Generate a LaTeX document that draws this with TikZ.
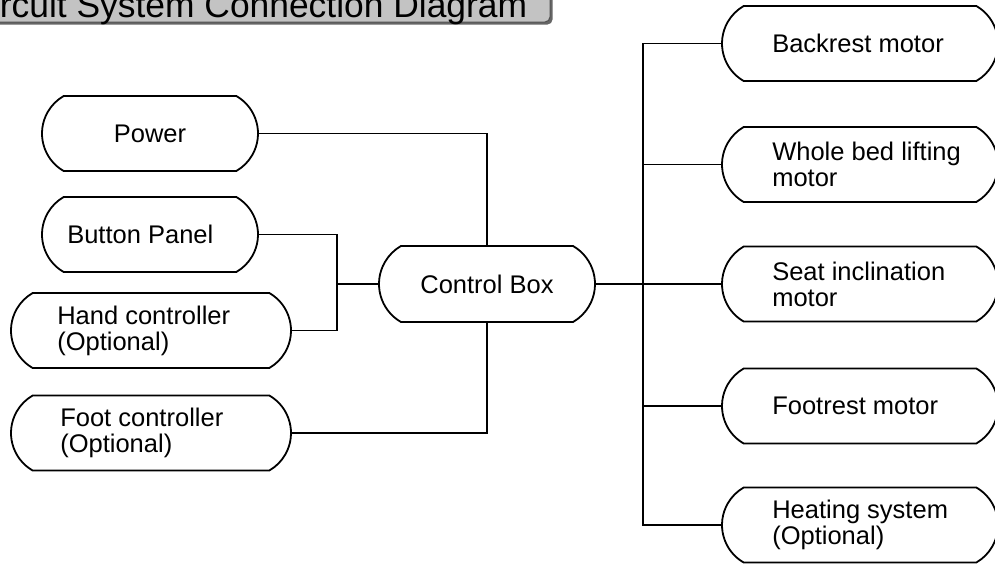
\documentclass[tikz,border=0pt]{standalone}
\usepackage{fontspec}
\setmainfont{Liberation Sans}
\usetikzlibrary{shapes.misc}
\definecolor{titlefill}{HTML}{C3C3C3}
\definecolor{titleedge}{HTML}{505050}
\definecolor{titleshadow}{HTML}{666666}
\begin{document}
\begin{tikzpicture}[x=1pt,y=-1pt,
  pill/.style={rounded rectangle, rounded rectangle arc length=120, draw=black,
    line width=1.8pt, fill=white, inner sep=0pt, minimum height=75pt},
  lbl/.style={font=\fontsize{25.5}{26}\selectfont, inner sep=0pt, align=left, anchor=west},
  wire/.style={line width=1.8pt, draw=black}]
\useasboundingbox (0,0) rectangle (995,563);
\clip (0,0) rectangle (995,563);
% title
\fill[titleshadow, rounded corners=5pt] (-60,-60) rectangle (552.5,24.5);
\draw[fill=titlefill, draw=titleedge, line width=1pt, rounded corners=5pt] (-60,-60) rectangle (550,22);
\node[font=\fontsize{35.4}{36}\selectfont, anchor=base west, inner sep=0pt] (title) at (-33.7,17) {Circuit System Connection Diagram};
% left nodes
\node[pill, minimum width=216pt, font=\fontsize{25.5}{26}\selectfont] (pw) at (150,133.5) {Power};
\node[pill, minimum width=216pt] (bp) at (150,234.5) {};
\node[lbl] (bpt) at ([xshift=26pt]bp.west) {Button Panel};
\node[pill, minimum width=280pt] (hc) at (151,330.5) {};
\node[lbl] (hct) at ([xshift=47pt]hc.west) {Hand controller\\(Optional)};
\node[pill, minimum width=280pt] (fc) at (151,433) {};
\node[lbl] (fct) at ([xshift=50pt]fc.west) {Foot controller\\(Optional)};
% control box
\node[pill, minimum width=216pt, minimum height=76pt, font=\fontsize{25.5}{26}\selectfont] (cb) at (487,284) {Control Box};
% right nodes
\node[pill, minimum width=276pt] (m1) at (860,43.5) {};
\node[lbl] (m1t) at ([xshift=51pt]m1.west) {Backrest motor};
\node[pill, minimum width=276pt] (m2) at (860,164.5) {};
\node[lbl] (m2t) at ([xshift=51pt]m2.west) {Whole bed lifting\\motor};
\node[pill, minimum width=276pt] (m3) at (860,284) {};
\node[lbl] (m3t) at ([xshift=51pt]m3.west) {Seat inclination\\motor};
\node[pill, minimum width=276pt] (m4) at (860,406) {};
\node[lbl] (m4t) at ([xshift=51pt]m4.west) {Footrest motor};
\node[pill, minimum width=276pt] (m5) at (860,525) {};
\node[lbl] (m5t) at ([xshift=51pt]m5.west) {Heating system\\(Optional)};
% junction coordinates
\coordinate (jl) at (337,284);
\coordinate (jr) at (643,284);
% left wires
\draw[wire] (pw.east) -| (cb.north);
\draw[wire] (fc.east) -| (cb.south);
\draw[wire] (bp.east) -| (jl) |- (hc.east);
\draw[wire] (jl) -- (cb.west);
% right wires
\draw[wire] (cb.east) -- (jr);
\draw[wire] (m1.west) -| (jr) |- (m5.west);
\draw[wire] (m2.west) -| (jr);
\draw[wire] (m3.west) -- (jr);
\draw[wire] (m4.west) -| (jr);
\end{tikzpicture}
\end{document}
